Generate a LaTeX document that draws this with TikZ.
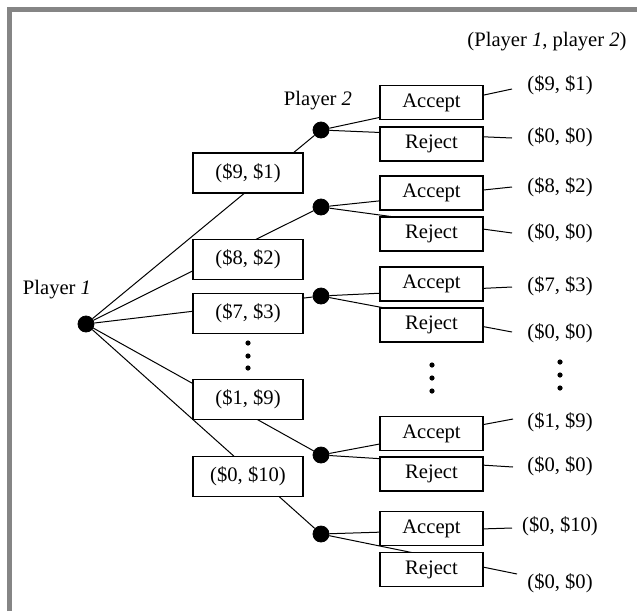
\documentclass[tikz,border=0pt]{standalone}
\usepackage{fontspec}
\setmainfont{Liberation Serif}
\definecolor{framegray}{HTML}{858585}

\begin{document}
\begin{tikzpicture}[x=0.5pt,y=-0.5pt,
            font=\fontsize{10.3}{12}\selectfont,
            player node/.style={circle,fill=black,draw,minimum size=8pt,inner sep=0pt},
            offer box/.style={draw,fill=white,line width=0.6pt,minimum width=55pt,minimum height=20pt,inner sep=0pt},
            answer box/.style={draw,fill=white,line width=0.6pt,minimum width=51.5pt,minimum height=17pt,inner sep=0pt},
            small dot/.style={circle,fill=black,minimum size=2.6pt,inner sep=0pt},
            branch/.style={line width=0.5pt},
            ]
            \useasboundingbox (0,0) rectangle (637,611);
            \draw[line width=2.15pt, framegray] (9.5,611) -- (9.5,9.5) -- (637,9.5);

            % players
            \node[player node] (p1) at (86,324) {};
            \node (p1 label) at (57,290) {Player \textit{1}};
            \node[player node] (q1) at (321,130) {};
            \node[player node] (q2) at (321,207) {};
            \node[player node] (q3) at (321,296) {};
            \node[player node] (q4) at (321,455) {};
            \node[player node] (q5) at (321,534) {};
            \node (q label) at (318,101) {Player \textit{2}};
            \node (head) at (547,42) {(Player \textit{1}, player \textit{2})};

            % line ends in front of the payoffs
            \coordinate (ea1) at (512,89);
            \coordinate (er1) at (512,138);
            \coordinate (ea2) at (512,187);
            \coordinate (er2) at (512,233);
            \coordinate (ea3) at (512,287);
            \coordinate (er3) at (512,332);
            \coordinate (ea4) at (513,419);
            \coordinate (er4) at (513,467);
            \coordinate (ea5) at (512,528);
            \coordinate (er5) at (517,574);

            \draw[branch] (p1) -- (q1);
            \draw[branch] (p1) -- (q2);
            \draw[branch] (p1) -- (q3);
            \draw[branch] (p1) -- (q4);
            \draw[branch] (p1) -- (q5);
            \draw[branch] (ea1) -- (q1) -- (er1);
            \draw[branch] (ea2) -- (q2) -- (er2);
            \draw[branch] (ea3) -- (q3) -- (er3);
            \draw[branch] (ea4) -- (q4) -- (er4);
            \draw[branch] (ea5) -- (q5) -- (er5);

            % offers of player 1
            \node[offer box] (o1) at (248,173) {(\$9, \$1)};
            \node[offer box] (o2) at (248,259.5) {(\$8, \$2)};
            \node[offer box] (o3) at (248,313.5) {(\$7, \$3)};
            \node[offer box] (o4) at (248,399.5) {(\$1, \$9)};
            \node[offer box] (o5) at (248,476.5) {(\$0, \$10)};
            \node[small dot] (d1) at (248,343) {};
            \node[small dot] (d2) at (248,356) {};
            \node[small dot] (d3) at (248,368) {};

            % answers of player 2
            \node[answer box] (a1) at (431.5,102.5) {Accept};
            \node[answer box] (r1) at (431.5,144) {Reject};
            \node[answer box] (a2) at (431.5,193) {Accept};
            \node[answer box] (r2) at (431.5,234) {Reject};
            \node[answer box] (a3) at (431.5,284) {Accept};
            \node[answer box] (r3) at (431.5,325) {Reject};
            \node[answer box] (a4) at (431.5,433.5) {Accept};
            \node[answer box] (r4) at (431.5,474) {Reject};
            \node[answer box] (a5) at (431.5,528.5) {Accept};
            \node[answer box] (r5) at (431.5,569.5) {Reject};
            \node[small dot] (d4) at (432,365) {};
            \node[small dot] (d5) at (432,378) {};
            \node[small dot] (d6) at (432,391) {};

            % payoffs
            \node (pa1) at (560,85) {(\$9, \$1)};
            \node (pr1) at (560,137) {(\$0, \$0)};
            \node (pa2) at (560,187) {(\$8, \$2)};
            \node (pr2) at (560,233) {(\$0, \$0)};
            \node (pa3) at (560,286) {(\$7, \$3)};
            \node (pr3) at (560,333) {(\$0, \$0)};
            \node (pa4) at (560,422) {(\$1, \$9)};
            \node (pr4) at (560,466) {(\$0, \$0)};
            \node (pa5) at (560,526) {(\$0, \$10)};
            \node (pr5) at (560,583) {(\$0, \$0)};
            \node[small dot] (d7) at (560,362) {};
            \node[small dot] (d8) at (560,375) {};
            \node[small dot] (d9) at (560,388) {};
        \end{tikzpicture}
\end{document}
